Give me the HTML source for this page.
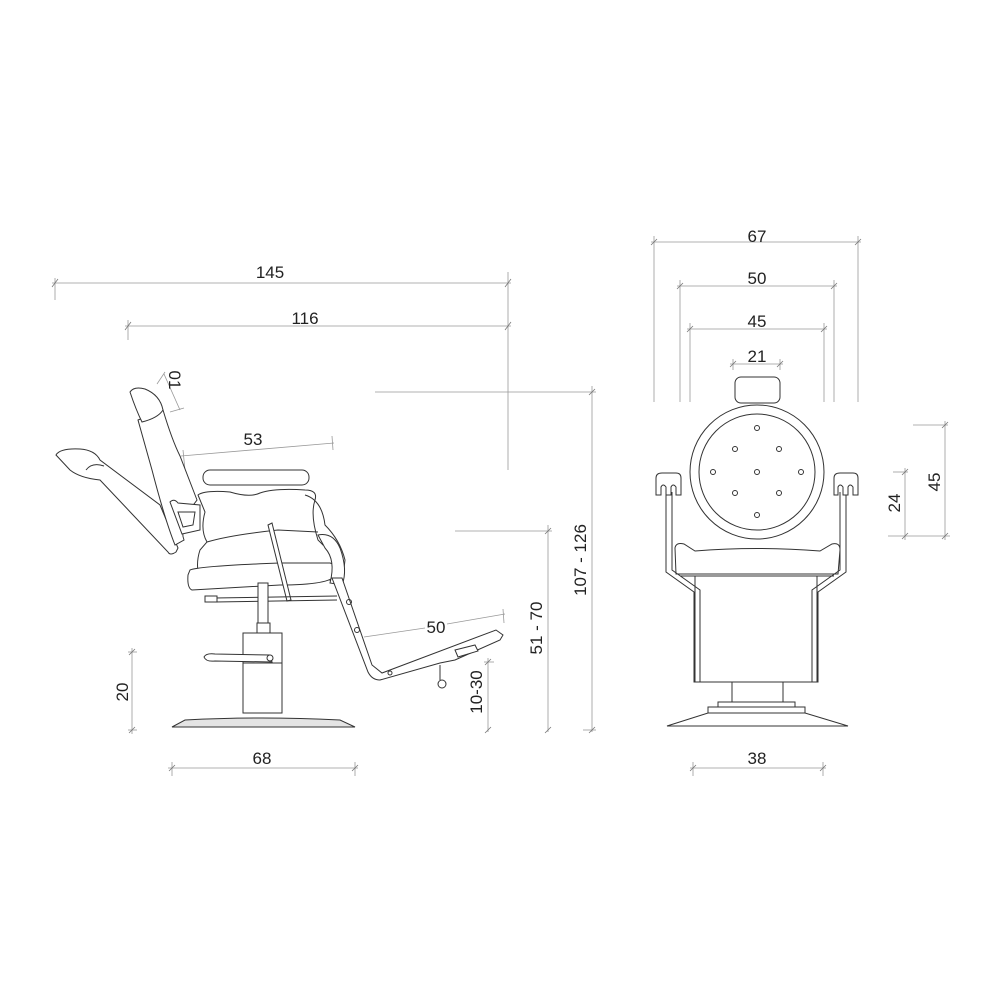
<!DOCTYPE html>
<html><head><meta charset="utf-8"><style>
html,body{margin:0;padding:0;background:#fff;}
svg{display:block;}
text{font-family:"Liberation Sans",sans-serif;font-size:17px;fill:#222;}
.d{stroke:#999;stroke-width:0.8;fill:none;}
.t{stroke:#777;stroke-width:0.8;}
.s{stroke:#333;stroke-width:1;fill:#fff;}
.s2{stroke:#333;stroke-width:1;fill:none;}
</style></head><body>
<svg width="1000" height="1000" viewBox="0 0 1000 1000" xmlns="http://www.w3.org/2000/svg">
<!-- ===== SIDE VIEW DIMENSIONS ===== -->
<g class="d">
<line x1="52" y1="283" x2="511" y2="283"/><line x1="55" y1="278" x2="55" y2="300"/><line x1="508" y1="272" x2="508" y2="470"/>
<line x1="125" y1="326" x2="511" y2="326"/><line x1="128" y1="320" x2="128" y2="340"/>
<line x1="375" y1="392" x2="596" y2="392"/><line x1="592" y1="386" x2="592" y2="732"/>
<line x1="455" y1="531" x2="552" y2="531"/><line x1="548" y1="525" x2="548" y2="732"/>
<line x1="583" y1="730" x2="596" y2="730"/>
<line x1="484" y1="662" x2="494" y2="662"/><line x1="488" y1="658" x2="488" y2="732"/>
<line x1="128" y1="652" x2="137" y2="652"/><line x1="132" y1="648" x2="132" y2="734"/><line x1="128" y1="730" x2="137" y2="730"/>
<line x1="168" y1="768" x2="358" y2="768"/><line x1="172" y1="762" x2="172" y2="776"/><line x1="355" y1="762" x2="355" y2="776"/>
<line x1="181" y1="456" x2="334" y2="443"/><line x1="183" y1="450" x2="185" y2="470"/><line x1="332" y1="436" x2="333" y2="450"/>
<line x1="364" y1="637" x2="425" y2="628"/><line x1="447" y1="624" x2="505" y2="614"/><line x1="503" y1="609" x2="504" y2="623"/>
<line x1="157" y1="384" x2="165" y2="372"/><line x1="164" y1="374" x2="180" y2="410"/><line x1="170" y1="412" x2="184" y2="408"/>
</g>
<g class="t">
<line x1="52" y1="287" x2="58" y2="279"/><line x1="505" y1="287" x2="511" y2="279"/>
<line x1="125" y1="330" x2="131" y2="322"/><line x1="505" y1="330" x2="511" y2="322"/>
<line x1="589" y1="395" x2="595" y2="389"/><line x1="589" y1="733" x2="595" y2="727"/>
<line x1="545" y1="534" x2="551" y2="528"/><line x1="545" y1="733" x2="551" y2="727"/>
<line x1="485" y1="665" x2="491" y2="659"/><line x1="485" y1="733" x2="491" y2="727"/>
<line x1="129" y1="655" x2="135" y2="649"/><line x1="129" y1="733" x2="135" y2="727"/>
<line x1="169" y1="771" x2="175" y2="765"/><line x1="352" y1="771" x2="358" y2="765"/>
</g>
<text x="270" y="278" text-anchor="middle">145</text>
<text x="305" y="324" text-anchor="middle">116</text>
<text x="253" y="445" text-anchor="middle">53</text>
<text x="436" y="633" text-anchor="middle">50</text>
<text x="262" y="764" text-anchor="middle">68</text>
<text transform="translate(586,560) rotate(-90)" text-anchor="middle">107 - 126</text>
<text transform="translate(542,628) rotate(-90)" text-anchor="middle">51 - 70</text>
<text transform="translate(482,692) rotate(-90)" text-anchor="middle">10-30</text>
<text transform="translate(128,692) rotate(-90)" text-anchor="middle">20</text>
<text transform="translate(169,380) rotate(90)" text-anchor="middle">01</text>

<!-- ===== SIDE VIEW CHAIR ===== -->
<!-- leg rest (reclined) -->
<path class="s" d="M56,455 Q60,448 80,449 Q95,450 100,460 L160,505 L178,548 L176,552 Q170,556 168,552 L100,480 Q80,478 70,470 Z"/>
<path class="s2" d="M86,470 Q92,462 104,466"/>
<!-- backrest -->
<path class="s" d="M138,420 L163,410 Q172,440 180,456 L197,500 L188,512 Q180,530 184,540 L175,545 Q165,520 152,470 Z"/>
<!-- headrest -->
<path class="s" d="M130,392 Q134,386 145,389 Q160,395 163,410 Q158,418 142,422 Q136,410 130,392 Z"/>
<!-- arm bracket -->
<path class="s" d="M170,502 Q174,498 178,503 L200,505 L200,530 L182,534 Z"/>
<path class="s2" d="M178,512 L195,512 L193,525 L183,527 Z"/>
<!-- seat cushion -->
<rect class="s" x="203" y="470" width="106" height="15" rx="7"/>
<!-- seat body -->
<path class="s" d="M198,495 Q205,490 230,492 Q250,498 260,493 Q275,488 305,490 Q318,490 315,500 Q310,515 318,540 L323,545 L330,540 Q345,550 343,575 L335,580 L200,580 Q195,565 200,550 L207,542 Q200,530 205,512 Z"/>
<path class="s2" d="M207,542 Q230,535 278,530 L318,532"/>
<!-- seat base -->
<path class="s" d="M190,570 Q200,566 280,563 L330,563 Q338,565 336,575 Q330,585 280,585 L192,590 Q187,588 188,575 Z"/>
<!-- back tube -->
<path class="s2" d="M305,495 Q322,500 325,525 Q340,540 345,560 L342,585"/>
<path class="s" d="M318,535 Q333,532 340,548 Q348,570 342,585 L330,583 Q336,560 325,548 Z"/>
<!-- gas lever diagonal -->
<path class="s" d="M268,525 L272,523 L291,600 L287,601 Z"/>
<!-- lower rod -->
<line class="s2" x1="215" y1="598" x2="337" y2="596"/><line class="s2" x1="215" y1="602" x2="337" y2="600"/>
<rect class="s" x="205" y="596" width="12" height="6"/>
<!-- column -->
<rect class="s" x="258" y="583" width="10" height="40"/>
<rect class="s" x="257" y="623" width="13" height="10"/>
<rect class="s" x="243" y="633" width="39" height="80"/>
<line class="s2" x1="243" y1="663" x2="282" y2="663"/>
<!-- foot pedal -->
<path class="s" d="M204,657 Q206,653 215,654 L270,655 L272,662 L215,661 Q206,662 204,657 Z"/>
<circle class="s" cx="270" cy="658" r="3"/>
<!-- base plate -->
<path d="M172,727 L185,720 Q260,716 340,720 L355,727 Z" fill="#e4e4e4" stroke="#333" stroke-width="1"/>
<!-- footrest frame -->
<path class="s" d="M332,578 L342,578 L372,665 L382,673 L496,630 L503,635 L500,640 L455,660 L440,663 L380,680 Q372,680 368,672 Z"/>
<circle class="s2" cx="349" cy="602" r="2.5"/><circle class="s2" cx="357" cy="630" r="2.5"/><circle class="s2" cx="390" cy="673" r="2"/>
<path class="s" d="M455,650 L475,645 L478,651 L458,657 Z"/>
<line class="s2" x1="440" y1="665" x2="440" y2="680"/>
<circle class="s" cx="442" cy="684" r="4"/>

<!-- ===== FRONT VIEW DIMENSIONS ===== -->
<g class="d">
<line x1="651" y1="242" x2="861" y2="242"/><line x1="654" y1="236" x2="654" y2="402"/><line x1="858" y1="236" x2="858" y2="402"/>
<line x1="677" y1="286" x2="837" y2="286"/><line x1="680" y1="280" x2="680" y2="402"/><line x1="834" y1="280" x2="834" y2="402"/>
<line x1="687" y1="329" x2="827" y2="329"/><line x1="690" y1="323" x2="690" y2="402"/><line x1="824" y1="323" x2="824" y2="402"/>
<line x1="730" y1="364" x2="783" y2="364"/><line x1="733" y1="359" x2="733" y2="370"/><line x1="780" y1="359" x2="780" y2="370"/>
<line x1="913" y1="425" x2="948" y2="425"/><line x1="945" y1="421" x2="945" y2="540"/>
<line x1="888" y1="536" x2="950" y2="536"/><line x1="893" y1="472" x2="908" y2="472"/><line x1="905" y1="468" x2="905" y2="540"/>
<line x1="690" y1="768" x2="826" y2="768"/><line x1="693" y1="762" x2="693" y2="776"/><line x1="823" y1="762" x2="823" y2="776"/>
</g>
<g class="t">
<line x1="651" y1="245" x2="657" y2="239"/><line x1="855" y1="245" x2="861" y2="239"/>
<line x1="677" y1="289" x2="683" y2="283"/><line x1="831" y1="289" x2="837" y2="283"/>
<line x1="687" y1="332" x2="693" y2="326"/><line x1="821" y1="332" x2="827" y2="326"/>
<line x1="730" y1="367" x2="736" y2="361"/><line x1="777" y1="367" x2="783" y2="361"/>
<line x1="942" y1="428" x2="948" y2="422"/><line x1="942" y1="539" x2="948" y2="533"/>
<line x1="902" y1="475" x2="908" y2="469"/><line x1="902" y1="539" x2="908" y2="533"/>
<line x1="690" y1="771" x2="696" y2="765"/><line x1="820" y1="771" x2="826" y2="765"/>
</g>
<text x="757" y="242" text-anchor="middle">67</text>
<text x="757" y="284" text-anchor="middle">50</text>
<text x="757" y="327" text-anchor="middle">45</text>
<text x="757" y="362" text-anchor="middle">21</text>
<text x="757" y="764" text-anchor="middle">38</text>
<text transform="translate(940,482) rotate(-90)" text-anchor="middle">45</text>
<text transform="translate(900,503) rotate(-90)" text-anchor="middle">24</text>

<!-- ===== FRONT VIEW CHAIR ===== -->
<rect class="s" x="735" y="377" width="45" height="26" rx="6"/>
<circle class="s" cx="757" cy="472" r="67"/>
<circle class="s2" cx="757" cy="472" r="58"/>
<g class="s2">
<circle cx="757" cy="428" r="2.5"/><circle cx="735" cy="449" r="2.5"/><circle cx="779" cy="449" r="2.5"/>
<circle cx="713" cy="472" r="2.5"/><circle cx="757" cy="472" r="2.5"/><circle cx="801" cy="472" r="2.5"/>
<circle cx="735" cy="493" r="2.5"/><circle cx="779" cy="493" r="2.5"/><circle cx="757" cy="515" r="2.5"/>
</g>
<!-- seat -->
<path class="s" d="M675,548 Q676,542 684,544 L695,551 Q757,546 820,551 L832,544 Q840,542 840,550 L838,574 L676,574 Z"/>
<!-- body -->
<rect class="s" x="695" y="576" width="122" height="106"/>
<line class="s2" x1="680" y1="576" x2="834" y2="576"/>
<!-- arm tubes -->
<path class="s2" d="M666,492 L666,572 L694,592 L694,682 L700,682 L700,590 L672,570 L672,492"/>
<path class="s2" d="M846,492 L846,572 L818,592 L818,682 L812,682 L812,590 L840,570 L840,492"/>
<!-- arm caps -->
<path class="s" d="M656,478 Q656,473 662,473 L676,473 Q681,473 681,478 L681,495 L676,495 L676,487 Q673,483 671,487 L671,495 L666,495 L666,487 Q663,483 661,487 L661,495 L656,495 Z"/>
<path class="s" d="M834,478 Q834,473 840,473 L853,473 Q858,473 858,478 L858,495 L853,495 L853,487 Q850,483 848,487 L848,495 L843,495 L843,487 Q840,483 838,487 L838,495 L834,495 Z"/>
<!-- column & base -->
<rect class="s" x="732" y="682" width="51" height="20"/>
<rect class="s" x="718" y="702" width="77" height="5"/>
<rect class="s" x="708" y="707" width="97" height="6"/>
<path class="s" d="M708,713 L805,713 L848,726 L667,726 Z"/>
</svg>
</body></html>
